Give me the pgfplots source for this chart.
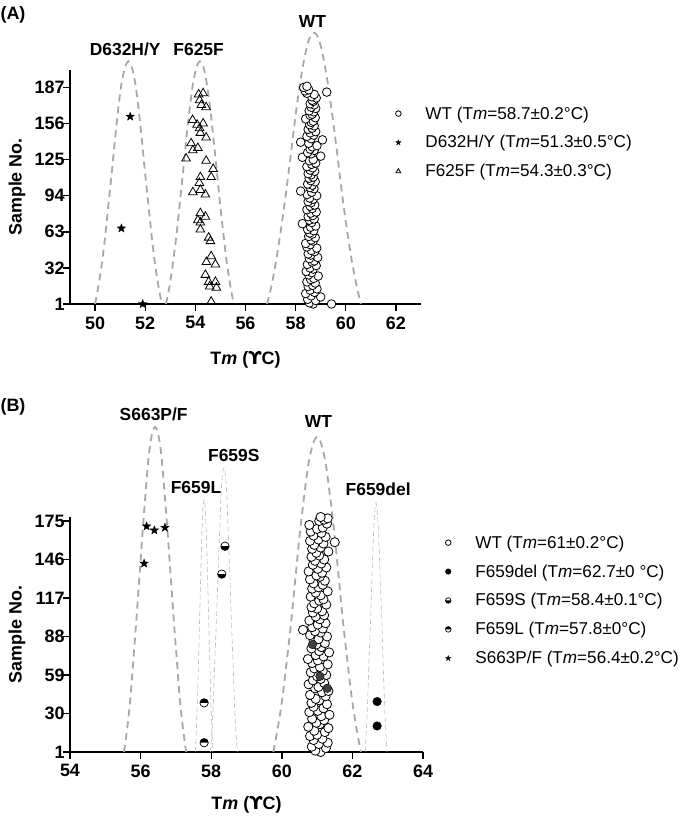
\documentclass[border=0pt]{standalone}
\usepackage{pgfplots}
\pgfplotsset{compat=1.18}
\usepackage{fontspec}
\setmainfont{Liberation Sans}
\newfontfamily\djv{DejaVu Sans}
\definecolor{cgray}{gray}{0.66}
\definecolor{tgray}{gray}{0.74}

\pgfdeclareplotmark{fstar}{%
 \pgfpathmoveto{\pgfpointpolar{90}{\pgfplotmarksize}}%
 \pgfpathlineto{\pgfpointpolar{126}{0.42\pgfplotmarksize}}%
 \pgfpathlineto{\pgfpointpolar{162}{\pgfplotmarksize}}%
 \pgfpathlineto{\pgfpointpolar{198}{0.42\pgfplotmarksize}}%
 \pgfpathlineto{\pgfpointpolar{234}{\pgfplotmarksize}}%
 \pgfpathlineto{\pgfpointpolar{270}{0.42\pgfplotmarksize}}%
 \pgfpathlineto{\pgfpointpolar{306}{\pgfplotmarksize}}%
 \pgfpathlineto{\pgfpointpolar{342}{0.42\pgfplotmarksize}}%
 \pgfpathlineto{\pgfpointpolar{18}{\pgfplotmarksize}}%
 \pgfpathlineto{\pgfpointpolar{54}{0.42\pgfplotmarksize}}%
 \pgfpathclose
 \pgfusepathqfillstroke}
\pgfdeclareplotmark{halfbot}{%
 \pgfsetfillcolor{white}%
 \pgfpathcircle{\pgfpointorigin}{\pgfplotmarksize}\pgfusepathqfill
 \pgfsetfillcolor{black}%
 \pgfpathmoveto{\pgfqpoint{-\pgfplotmarksize}{0pt}}%
 \pgfpatharc{180}{360}{\pgfplotmarksize}\pgfpathclose\pgfusepathqfill
 \pgfpathcircle{\pgfpointorigin}{\pgfplotmarksize}\pgfusepathqstroke}
\pgfdeclareplotmark{halftop}{%
 \pgfsetfillcolor{white}%
 \pgfpathcircle{\pgfpointorigin}{\pgfplotmarksize}\pgfusepathqfill
 \pgfsetfillcolor{black}%
 \pgfpathmoveto{\pgfqpoint{\pgfplotmarksize}{0pt}}%
 \pgfpatharc{0}{180}{\pgfplotmarksize}\pgfpathclose\pgfusepathqfill
 \pgfpathcircle{\pgfpointorigin}{\pgfplotmarksize}\pgfusepathqstroke}

\tikzset{lab/.style={font=\fontsize{17.5}{20}\selectfont\bfseries}}

\pgfplotsset{
 panel/.style={
  scale only axis, clip=false,
  axis lines*=left, axis line style={line width=1.6bp,-},
  tick style={line width=1.4bp,black}, major tick length=7bp, tick align=outside,
  minor tick num=0,
  /pgf/number format/assume math mode=true,
  ticklabel style={font=\fontsize{18}{21}\selectfont\bfseries},
  xticklabel style={yshift=-2bp},
  yticklabel style={xshift=5bp},
  label style={font=\fontsize{18}{21}\selectfont\bfseries},
  ylabel={Sample No.},
  xlabel={T\textit{m} ({\djv\bfseries ϒ}C)},
  legend cell align=left,
  legend image code/.code={\draw[##1,mark size=2.8bp] plot coordinates {(0cm,0cm)}; \path[draw=none,fill=none] (0cm,-1pt) rectangle (0.85cm,1pt);},
  legend style={draw=none,fill=none,inner sep=0pt,font=\fontsize{17.2}{20}\selectfont,row sep=9bp,nodes={inner sep=3bp},anchor=north west},
 },
 curve/.style={smooth,no marks,forget plot,cgray,line width=1.8bp,dash pattern=on 7bp off 5bp},
 tcurve/.style={smooth,no marks,forget plot,tgray,line width=0.6bp,dash pattern=on 5bp off 3bp},
 opencirc/.style={only marks,mark=*,mark size=4.3bp,mark options={fill=white,draw=black,line width=0.8bp}},
}

\begin{document}
\begin{tikzpicture}
\useasboundingbox (0,0) rectangle (680bp,820bp);
\node[font=\fontsize{18}{20}\selectfont\bfseries] at (13bp,805bp) {(A)};
\node[font=\fontsize{18}{20}\selectfont\bfseries] at (13bp,413bp) {(B)};

% ---------------- Panel A ----------------
\begin{axis}[panel,
  at={(70bp,516bp)}, anchor=south west, width=351bp, height=234bp,
  xmin=49, xmax=63, ymin=1, ymax=202,
  xtick={50,52,54,56,58,60,62}, ytick={1,32,63,94,125,156,187},
  xlabel style={at={(axis description cs:0.5,-0.24)},anchor=center},
  ylabel style={at={(axis description cs:-0.151,0.5)},anchor=center},
  legend style={at={(0.927,0.857)}},
]
\addplot[curve] coordinates {(50.00,1) (50.13,16.1) (50.27,35.4) (50.40,58.9) (50.53,85.8) (50.67,114.6) (50.80,143.4) (50.93,169.8) (51.06,191.0) (51.20,204.7) (51.33,209.5) (51.46,204.7) (51.60,191.0) (51.73,169.8) (51.86,143.4) (51.99,114.6) (52.13,85.8) (52.26,58.9) (52.39,35.4) (52.53,16.1) (52.66,1)};
\addplot[curve] coordinates {(52.83,1) (52.97,16.1) (53.10,35.4) (53.24,58.9) (53.37,85.8) (53.51,114.6) (53.64,143.4) (53.78,169.8) (53.91,191.0) (54.05,204.7) (54.18,209.5) (54.32,204.7) (54.45,191.0) (54.59,169.8) (54.72,143.4) (54.86,114.6) (54.99,85.8) (55.13,58.9) (55.26,35.4) (55.40,16.1) (55.53,1)};
\addplot[curve] coordinates {(56.86,1) (57.05,17.9) (57.23,39.4) (57.42,65.7) (57.61,95.7) (57.80,128.0) (57.98,160.2) (58.17,189.6) (58.36,213.3) (58.54,228.7) (58.73,234) (58.92,228.7) (59.10,213.3) (59.29,189.6) (59.48,160.2) (59.67,128.0) (59.85,95.7) (60.04,65.7) (60.23,39.4) (60.42,17.9) (60.60,1)};

\addplot[opencirc] coordinates {
(58.70,1) (58.55,2) (58.80,4) (58.48,5) (59.00,7) (58.62,8) (58.40,10) (58.75,11) (58.58,13) (58.85,14)
(58.50,16) (58.68,17) (58.78,19) (58.45,20) (58.60,22) (58.72,23) (58.90,25) (58.52,26) (58.64,28) (58.42,29)
(58.70,31) (58.57,32) (58.82,34) (58.47,35) (58.66,37) (58.74,38) (58.55,40) (58.88,41) (58.60,43) (58.50,44)
(58.76,46) (58.63,47) (58.84,49) (58.45,50) (58.58,52) (58.40,53) (58.70,55) (58.62,56) (58.78,58) (58.52,59)
(58.66,61) (58.56,62) (58.72,64) (58.48,65) (58.60,67) (58.80,68) (58.27,70) (58.64,71) (58.55,73) (58.74,74)
(58.50,76) (58.68,77) (58.60,79) (58.82,80) (58.45,82) (58.66,83) (58.58,85) (58.76,86) (58.62,88) (58.50,89)
(58.70,91) (58.56,92) (58.84,94) (58.46,95) (58.64,97) (58.20,98) (58.73,100) (58.58,101) (58.66,103) (58.48,104)
(58.78,106) (58.60,107) (58.54,109) (58.70,110) (58.62,112) (58.50,113) (58.76,115) (58.58,116) (58.68,118) (58.45,119)
(58.64,121) (58.80,122) (58.55,124) (58.70,125) (58.27,127) (59.00,128) (58.62,130) (58.48,131) (58.74,133) (58.58,134)
(58.66,136) (58.85,137) (58.52,139) (58.20,140) (59.07,142) (58.62,143) (58.45,145) (58.72,146) (58.58,148) (58.80,149)
(58.50,151) (58.66,152) (58.74,154) (58.56,155) (58.62,157) (58.70,158) (58.40,160) (58.78,161) (58.58,163) (58.66,164)
(58.72,166) (58.54,167) (58.80,169) (58.62,170) (58.74,172) (58.58,173) (58.70,175) (58.66,176) (58.82,178) (58.64,179)
(58.74,181) (58.45,182) (58.38,184) (58.52,185) (58.32,187) (58.45,188) (59.24,183) (59.43,1)};
\addlegendentry{WT (T\textit{m}=58.7±0.2°C)}
\addplot[only marks,mark=fstar,mark size=4.5bp,mark options={fill=black,draw=black,line width=0.3bp}] coordinates {(51.4,162) (51.05,66) (51.9,1)};
\addlegendentry{D632H/Y (T\textit{m}=51.3±0.5°C)}
\addplot[only marks,mark=triangle,mark size=5bp,mark options={fill=white,draw=black,line width=0.8bp}] coordinates {
(54.13,181) (54.31,182) (54.17,176) (54.24,172) (54.43,170) (53.89,159) (54.07,155) (54.31,156) (54.17,152) (54.20,148)
(54.43,144) (53.83,139) (53.90,133) (54.10,135) (53.63,126) (54.43,124) (54.71,117) (54.20,110) (54.63,110) (54.16,105)
(53.90,97) (54.20,99) (54.40,95) (54.20,79) (54.40,76) (54.10,73) (54.20,71) (54.20,65) (54.53,58) (54.60,55)
(54.63,42) (54.44,37) (54.80,35) (54.40,26) (54.53,20) (54.80,20) (54.57,16) (54.84,15) (54.63,3)};
\addlegendentry{F625F (T\textit{m}=54.3±0.3°C)}
\node[lab] at (axis cs:51.2,220) {D632H/Y};
\node[lab] at (axis cs:54.13,220) {F625F};
\node[lab] at (axis cs:58.67,244) {WT};
\end{axis}

% ---------------- Panel B ----------------
\begin{axis}[panel,
  at={(70bp,68bp)}, anchor=south west, width=353bp, height=235bp,
  xmin=54, xmax=64, ymin=1, ymax=178,
  xtick={54,56,58,60,62,64}, ytick={1,30,59,88,117,146,175},
  xlabel style={at={(axis description cs:0.5,-0.226)},anchor=center},
  ylabel style={at={(axis description cs:-0.150,0.5)},anchor=center},
  legend style={at={(1.063,0.934)}},
]
\addplot[curve] coordinates {(55.53,1) (55.62,18.7) (55.71,41.4) (55.79,68.9) (55.88,100.5) (55.97,134.4) (56.06,168.2) (56.15,199.2) (56.23,224.0) (56.32,240.2) (56.41,245.8) (56.50,240.2) (56.59,224.0) (56.67,199.2) (56.76,168.2) (56.85,134.4) (56.94,100.5) (57.03,68.9) (57.11,41.4) (57.20,18.7) (57.29,1)};
\addplot[curve] coordinates {(59.76,1) (59.88,18.2) (60.01,40.2) (60.13,66.9) (60.26,97.5) (60.38,130.3) (60.50,163.1) (60.63,193.1) (60.75,217.2) (60.88,232.9) (61.00,238.3) (61.12,232.9) (61.25,217.2) (61.37,193.1) (61.50,163.1) (61.62,130.3) (61.74,97.5) (61.87,66.9) (61.99,40.2) (62.12,18.2) (62.24,1)};
\addplot[tcurve] coordinates {(57.98,1) (58.02,16.5) (58.06,36.3) (58.09,60.4) (58.13,88.0) (58.17,117.6) (58.21,147.2) (58.25,174.2) (58.28,196.0) (58.32,210.1) (58.36,215) (58.40,210.1) (58.44,196.0) (58.47,174.2) (58.51,147.2) (58.55,117.6) (58.59,88.0) (58.63,60.4) (58.66,36.3) (58.70,16.5) (58.74,1)};
\addplot[tcurve] coordinates {(57.55,1) (57.575,14.8) (57.60,32.4) (57.625,53.7) (57.65,78.2) (57.675,104.5) (57.70,130.8) (57.725,154.8) (57.75,174.1) (57.775,186.6) (57.80,191) (57.825,186.6) (57.85,174.1) (57.875,154.8) (57.90,130.8) (57.925,104.5) (57.95,78.2) (57.975,53.7) (58.00,32.4) (58.025,14.8) (58.05,1)};
\addplot[tcurve] coordinates {(62.36,1) (62.39,14.6) (62.42,32.0) (62.45,53.1) (62.48,77.3) (62.52,103.2) (62.55,129.2) (62.58,152.9) (62.61,171.9) (62.64,184.3) (62.67,188.6) (62.70,184.3) (62.73,171.9) (62.76,152.9) (62.79,129.2) (62.83,103.2) (62.86,77.3) (62.89,53.1) (62.92,32.0) (62.95,14.6) (62.98,1)};

\addplot[opencirc,mark size=4.6bp] coordinates {
(61.10,1) (60.95,2) (61.25,4) (60.85,5) (61.05,7) (61.30,8) (60.90,10) (61.15,11) (60.80,13) (61.00,14)
(61.22,16) (60.92,17) (61.32,19) (60.75,20) (61.08,22) (60.98,23) (61.20,25) (60.86,26) (61.12,28) (61.35,29)
(60.78,31) (61.02,32) (61.18,34) (60.90,35) (61.28,37) (60.84,38) (61.06,40) (60.96,41) (61.24,43) (60.80,44)
(61.14,46) (61.32,47) (60.94,49) (61.04,50) (60.76,52) (61.20,53) (60.88,55) (61.10,56) (61.00,58) (61.26,59)
(60.82,61) (61.16,62) (60.92,64) (61.08,65) (61.30,67) (60.86,68) (61.02,70) (60.74,71) (61.18,73) (60.96,74)
(61.34,76) (61.06,77) (60.84,79) (61.12,80) (60.98,82) (61.22,83) (60.90,85) (61.04,86) (61.28,88) (60.80,89)
(61.10,91) (60.94,92) (61.16,94) (60.86,95) (61.02,97) (61.24,98) (60.78,100) (61.08,101) (60.96,103) (61.20,104)
(60.88,106) (61.14,107) (61.00,109) (60.84,110) (61.26,112) (60.92,113) (61.06,115) (61.18,116) (60.82,118) (61.10,119)
(60.96,121) (61.30,122) (60.86,124) (61.04,125) (61.16,127) (60.90,128) (61.22,130) (60.80,131) (61.08,133) (60.98,134)
(61.14,136) (60.76,137) (61.02,139) (61.26,140) (60.88,142) (61.12,143) (60.94,145) (61.20,146) (60.84,148) (61.06,149)
(60.98,151) (61.32,152) (60.86,154) (61.10,155) (60.92,157) (61.18,158) (60.80,160) (61.04,161) (61.24,163) (60.90,164)
(61.12,166) (60.82,167) (61.00,169) (61.16,170) (60.78,172) (61.28,173) (61.06,175) (61.20,176) (61.30,177) (61.10,178)
(61.50,159) (60.60,93)};
\addlegendentry{WT (T\textit{m}=61±0.2°C)}
\addplot[only marks,mark=*,mark size=4.3bp,mark options={fill=black,draw=black}] coordinates {(62.70,39) (62.70,20.6)};
\addlegendentry{F659del (T\textit{m}=62.7±0 °C)}
\addplot[only marks,mark=halfbot,mark size=4.2bp,mark options={draw=black,line width=0.7bp}] coordinates {(58.39,156) (58.30,135)};
\addlegendentry{F659S (T\textit{m}=58.4±0.1°C)}
\addplot[only marks,mark=halftop,mark size=4.2bp,mark options={draw=black,line width=0.7bp}] coordinates {(57.80,38) (57.80,8)};
\addlegendentry{F659L (T\textit{m}=57.8±0°C)}
\addplot[only marks,mark=fstar,mark size=4.5bp,mark options={fill=black,draw=black,line width=0.3bp}] coordinates {(56.17,171) (56.39,168) (56.69,170) (56.10,143)};
\addlegendentry{S663P/F (T\textit{m}=56.4±0.2°C)}
\addplot[only marks,forget plot,mark=*,mark size=4.3bp,mark options={fill=black!75,draw=black}] coordinates {(60.87,82) (61.08,58) (61.29,49)};
\node[lab] at (axis cs:56.37,255) {S663P/F};
\node[lab] at (axis cs:61.04,250) {WT};
\node[lab] at (axis cs:58.64,224) {F659S};
\node[lab] at (axis cs:57.57,200) {F659L};
\node[lab] at (axis cs:62.73,199) {F659del};
\end{axis}
\end{tikzpicture}
\end{document}
